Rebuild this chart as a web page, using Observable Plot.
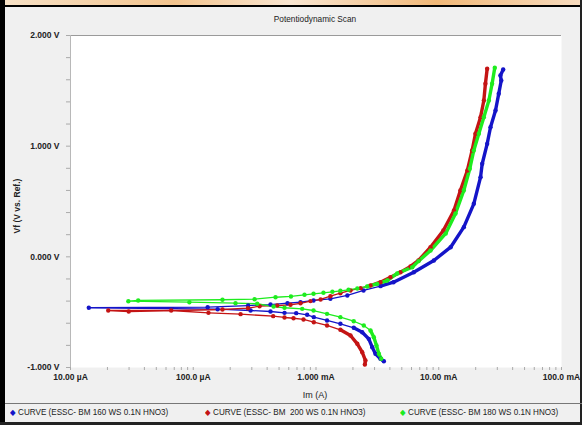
<!DOCTYPE html>
<html><head><meta charset="utf-8">
<script src="https://cdn.jsdelivr.net/npm/d3@7"></script>
<script src="https://cdn.jsdelivr.net/npm/@observablehq/plot@0.6"></script>
<style>
body{margin:0;background:#fff;}
#wrap{position:relative;width:582px;height:425px;overflow:hidden;background:#f0f0f0;font-family:"Liberation Sans Narrow","Liberation Sans",Arial,sans-serif;color:#222;}
#topstrip{position:absolute;left:0;top:0;width:582px;height:5px;background:linear-gradient(to right,#f7e2c8,#f3c48e 30%,#f9e6d2 50%,#f1b878 75%,#f7dcc0);}
#topline{position:absolute;left:0;top:5px;width:582px;height:2px;background:#000;}
#leftbar{position:absolute;left:0;top:0;width:5px;height:425px;background:#000;}
#rightbar{position:absolute;right:0;top:0;width:2px;height:425px;background:#222;}
#chart{position:absolute;left:0;top:0;}
#title{position:absolute;left:215px;top:14px;width:200px;text-align:center;font-size:9px;transform:scaleX(0.92);}
#ylabel{position:absolute;left:17px;top:206px;transform:translate(-50%,-50%) rotate(-90deg);transform-origin:center;font-size:8.5px;font-weight:bold;white-space:nowrap;}
#xlabel{position:absolute;left:215px;top:390px;width:200px;text-align:center;font-size:9px;}
#legsep{position:absolute;left:5px;top:403px;width:577px;height:1px;background:#777;}
#legbottom{position:absolute;left:0;top:422px;width:582px;height:3px;background:#222;}
#legend{position:absolute;left:0;top:407px;width:582px;height:14px;font-size:9px;white-space:nowrap;}
.li{position:absolute;top:0;transform:scaleX(0.9);transform-origin:left center;}
.mk{display:inline-block;width:6px;font-size:8px;margin-right:3px;}
</style></head><body>
<div id="wrap">
  <div id="chart"></div>
  <div id="topstrip"></div>
  <div id="topline"></div>
  <div id="leftbar"></div>
  <div id="rightbar"></div>
  <div id="title">Potentiodynamic Scan</div>
  <div id="ylabel">Vf (V vs. Ref.)</div>
  <div id="xlabel">Im (A)</div>
  <div id="legsep"></div>
  <div id="legend"></div>
  <div id="legbottom"></div>
</div>
<script>
// ---- data ----
const seriesNames = ["CURVE (ESSC- BM 160 WS 0.1N HNO3)", "CURVE (ESSC- BM  200 WS 0.1N HNO3)", "CURVE (ESSC- BM 180 WS 0.1N HNO3)"];
const seriesColors = ["#1414c8", "#c41414", "#1eec1e"];

const blueI = [3.57e-3,3.35e-3,3.05e-3,2.87e-3,2.69e-3,2.38e-3,2.03e-3,1.58e-3,1.23e-3,9.6e-4,8.47e-4,6.9e-4,5.54e-4,4.26e-4,2.93e-4,1.58e-4,1.41e-5,1.31e-4,2.8e-4,4.26e-4,5.86e-4,7.48e-4,9.55e-4,1.31e-3,1.8e-3,2.44e-3,3.35e-3,4.28e-3,6.26e-3,9.12e-3,1.25e-2,1.6e-2,1.93e-2,2.19e-2,2.26e-2,2.48e-2,2.64e-2,2.9e-2,3.08e-2,3.23e-2,3.18e-2,3.35e-2];
const blueV = [-0.943,-0.921,-0.876,-0.816,-0.741,-0.681,-0.641,-0.605,-0.575,-0.545,-0.524,-0.509,-0.506,-0.494,-0.485,-0.473,-0.460,-0.455,-0.440,-0.431,-0.419,-0.410,-0.394,-0.379,-0.349,-0.304,-0.265,-0.229,-0.139,-0.033,0.087,0.268,0.479,0.720,0.841,1.021,1.171,1.322,1.473,1.593,1.639,1.693];

const redI = [2.50e-3,2.53e-3,2.38e-3,2.17e-3,1.91e-3,1.58e-3,1.23e-3,9.6e-4,7.91e-4,6.56e-4,5.54e-4,4.48e-4,2.43e-4,1.33e-4,6.61e-5,2.03e-5,2.98e-5,1.73e-4,2.79e-4,3.47e-4,4.83e-4,6.2e-4,7.48e-4,9.02e-4,1.09e-3,1.31e-3,1.58e-3,1.91e-3,2.31e-3,2.78e-3,3.35e-3,4.04e-3,4.88e-3,5.89e-3,6.84e-3,8.57e-3,1.09e-2,1.33e-2,1.5e-2,1.71e-2,1.87e-2,1.99e-2,2.19e-2,2.33e-2,2.4e-2,2.48e-2];
const redV = [-0.973,-0.937,-0.862,-0.786,-0.711,-0.659,-0.620,-0.591,-0.566,-0.555,-0.548,-0.536,-0.518,-0.506,-0.485,-0.485,-0.494,-0.476,-0.464,-0.446,-0.440,-0.433,-0.420,-0.400,-0.385,-0.356,-0.329,-0.304,-0.283,-0.259,-0.229,-0.184,-0.139,-0.087,-0.033,0.087,0.238,0.419,0.599,0.780,0.961,1.112,1.262,1.413,1.564,1.699];

const greenI = [3.40e-3,3.25e-3,3.11e-3,2.96e-3,2.78e-3,2.45e-3,2.03e-3,1.58e-3,1.23e-3,9.55e-4,7.72e-4,5.54e-4,4.51e-4,3.32e-4,2.21e-4,9.3e-5,2.96e-5,3.56e-5,1.73e-4,3.16e-4,4.68e-4,6.25e-4,8.06e-4,9.55e-4,1.15e-3,1.36e-3,1.58e-3,1.84e-3,2.17e-3,2.61e-3,3.15e-3,3.8e-3,4.59e-3,6.08e-3,6.84e-3,8.57e-3,1.14e-2,1.37e-2,1.6e-2,1.79e-2,1.93e-2,2.12e-2,2.33e-2,2.56e-2,2.72e-2,2.86e-2];
const greenV = [-0.921,-0.876,-0.801,-0.726,-0.666,-0.620,-0.582,-0.545,-0.515,-0.485,-0.470,-0.460,-0.449,-0.424,-0.419,-0.410,-0.401,-0.394,-0.388,-0.383,-0.365,-0.358,-0.343,-0.334,-0.325,-0.316,-0.307,-0.298,-0.286,-0.268,-0.244,-0.214,-0.150,-0.094,-0.039,0.057,0.211,0.392,0.599,0.796,0.961,1.112,1.262,1.413,1.564,1.708];

const xMajorTicks = [1e-5, 1e-4, 1e-3, 1e-2, 1e-1];
const xTickLabels = ["10.00 \u00b5A", "100.0 \u00b5A", "1.000 mA", "10.00 mA", "100.0 mA"];
const yTicks = [-1,-0.8,-0.6,-0.4,-0.2,0,0.2,0.4,0.6,0.8,1,1.2,1.4,1.6,1.8,2];
const yLabelValues = [-1, 0, 1, 2];
const yTickLabels = ["-1.000 V", "0.000 V", "1.000 V", "2.000 V"];

// ---- build rows ----
const seriesData = [[blueI, blueV], [redI, redV], [greenI, greenV]];
const rows = [];
seriesData.forEach(([I, V], s) => {
  const minIdx = I.indexOf(Math.min(...I));
  I.forEach((v, i) => rows.push({name: seriesNames[s], I: v, V: V[i], branch: seriesNames[s] + (i <= minIdx ? "|c" : "|a")}));
});
const xMinor = [];
for (let e = -5; e < -1; e++) for (let m = 2; m <= 9; m++) xMinor.push(m * Math.pow(10, e));

const thick = rows.filter(r => r.V > -0.27 || r.V < -0.63);

const plot = Plot.plot({
  width: 582, height: 400,
  marginTop: 35, marginBottom: 33, marginLeft: 70, marginRight: 21,
  style: {background: "transparent", fontFamily: '"Liberation Sans Narrow","Liberation Sans",Arial,sans-serif', fontSize: "8.5px", color: "#222"},
  x: {type: "log", domain: [1e-5, 1e-1]},
  y: {domain: [-1, 2]},
  color: {domain: seriesNames, range: seriesColors},
  marks: [
    Plot.frame({fill: "white", stroke: null}),
    Plot.ruleY([2], {stroke: "#9a9a9a", strokeWidth: 1}),
    Plot.ruleX([1e-5], {stroke: "#b8b8b8", strokeWidth: 1}),
    Plot.axisY({ticks: yTicks, tickSize: 4, tickFormat: () => "", stroke: "#aaa", label: null}),
    Plot.axisY({ticks: yLabelValues, tickSize: 0, tickPadding: 11, tickFormat: (d) => yTickLabels[yLabelValues.indexOf(d)], fontWeight: "bold", label: null}),
    Plot.axisX({ticks: xMinor, tickSize: 3, tickFormat: () => "", stroke: "#aaa", label: null}),
    Plot.axisX({ticks: xMajorTicks, tickSize: 3, tickPadding: 3, tickFormat: (d) => xTickLabels[xMajorTicks.findIndex(t => Math.abs(Math.log10(t) - Math.log10(d)) < 1e-6)], stroke: "#aaa", fontWeight: "bold", label: null}),
    Plot.line(rows, {x: "I", y: "V", z: "name", stroke: "name", strokeWidth: 1.3}),
    Plot.line(thick, {x: "I", y: "V", z: "branch", stroke: "name", strokeWidth: 3.4, strokeLinejoin: "round"}),
    Plot.dot(rows, {x: "I", y: "V", fill: "name", r: 2.2, stroke: null})
  ]
});
document.getElementById("chart").appendChild(plot);

// legend
const legendX = [10, 205, 400];
const leg = document.getElementById("legend");
seriesNames.forEach((n, i) => {
  const d = document.createElement("div");
  d.className = "li";
  d.style.left = legendX[i] + "px";
  d.innerHTML = `<span class="mk" style="color:${seriesColors[i]}">\u25c6</span>` + n.replace(/ {2}/g, " &nbsp;");
  leg.appendChild(d);
});
</script>
</body></html>
